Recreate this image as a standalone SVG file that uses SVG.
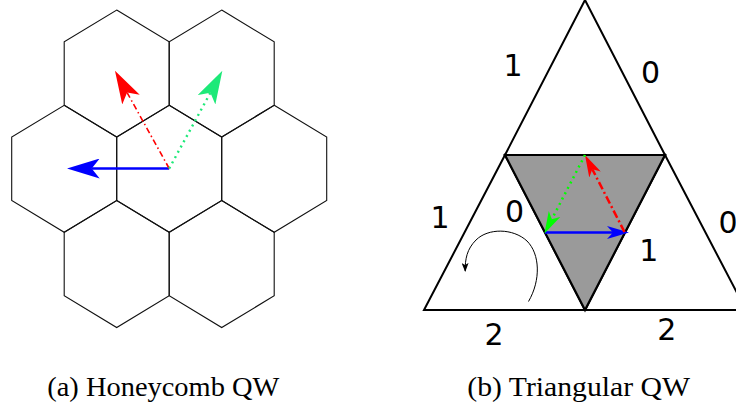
<svg xmlns="http://www.w3.org/2000/svg" width="736" height="407" viewBox="0 0 736 407">
<style>
.hex{fill:none;stroke:#111;stroke-width:1.1;stroke-linejoin:miter}
.tri{fill:none;stroke:#000;stroke-width:2;stroke-linejoin:miter}
.gray{fill:#9a9a9a;stroke:#000;stroke-width:2.2;stroke-linejoin:miter}
.lbl{font-family:"DejaVu Sans",sans-serif;font-size:30px;fill:#000;text-anchor:middle}
.cap{font-family:"Liberation Serif","Times New Roman",serif;font-size:28px;fill:#000}
.blue{fill:none;stroke:#0000ff;stroke-width:2.5}
.red{fill:none;stroke:#ff0000;stroke-width:1.6;stroke-dasharray:6 3 1.5 3}
.green{fill:none;stroke:#1de978;stroke-width:2.4;stroke-dasharray:2 4}
.redT{fill:none;stroke:#ff0000;stroke-width:2.5;stroke-dasharray:8 3 2 3}
.greenT{fill:none;stroke:#00ff00;stroke-width:2.5;stroke-dasharray:2 4}
.rot{fill:none;stroke:#000;stroke-width:1}
</style>
<defs>
<marker id="hB" viewBox="0 0 33 20" refX="8" refY="10" markerWidth="33" markerHeight="20" markerUnits="userSpaceOnUse" orient="auto"><path d="M0,0 L33,10 L0,20 L8,10 Z" fill="#0000ff"/></marker>
<marker id="hR" viewBox="0 0 33 20" refX="8" refY="10" markerWidth="33" markerHeight="20" markerUnits="userSpaceOnUse" orient="auto"><path d="M0,0 L33,10 L0,20 L8,10 Z" fill="#ff0000"/></marker>
<marker id="hG" viewBox="0 0 33 20" refX="8" refY="10" markerWidth="33" markerHeight="20" markerUnits="userSpaceOnUse" orient="auto"><path d="M0,0 L33,10 L0,20 L8,10 Z" fill="#1de978"/></marker>
<marker id="tB" viewBox="0 0 22 13" refX="6" refY="6.5" markerWidth="22" markerHeight="13" markerUnits="userSpaceOnUse" orient="auto"><path d="M0,0 L22,6.5 L0,13 L6,6.5 Z" fill="#0000ff"/></marker>
<marker id="tR" viewBox="0 0 22 13" refX="6" refY="6.5" markerWidth="22" markerHeight="13" markerUnits="userSpaceOnUse" orient="auto"><path d="M0,0 L22,6.5 L0,13 L6,6.5 Z" fill="#ff0000"/></marker>
<marker id="tG" viewBox="0 0 22 13" refX="6" refY="6.5" markerWidth="22" markerHeight="13" markerUnits="userSpaceOnUse" orient="auto"><path d="M0,0 L22,6.5 L0,13 L6,6.5 Z" fill="#00ff00"/></marker>
<marker id="sm" viewBox="0 0 9 7" refX="8" refY="3.5" markerWidth="9" markerHeight="7" markerUnits="userSpaceOnUse" orient="auto"><path d="M0,0 L9,3.5 L0,7 L2,3.5 Z" fill="#000"/></marker>
</defs>
<rect width="736" height="407" fill="#fff"/>

<g id="honeycomb">
<g id="hex-top-left"><polygon class="hex" points="116.7,10.05 169.2,41.8 169.2,105.3 116.7,137.05 64.2,105.3 64.2,41.8"/></g>
<g id="hex-top-right"><polygon class="hex" points="221.7,10.05 274.2,41.8 274.2,105.3 221.7,137.05 169.2,105.3 169.2,41.8"/></g>
<g id="hex-mid-left"><polygon class="hex" points="64.2,105.3 116.7,137.05 116.7,200.55 64.2,232.3 11.7,200.55 11.7,137.05"/></g>
<g id="hex-center"><polygon class="hex" points="169.2,105.3 221.7,137.05 221.7,200.55 169.2,232.3 116.7,200.55 116.7,137.05"/></g>
<g id="hex-mid-right"><polygon class="hex" points="274.2,105.3 326.7,137.05 326.7,200.55 274.2,232.3 221.7,200.55 221.7,137.05"/></g>
<g id="hex-bottom-left"><polygon class="hex" points="116.7,200.55 169.2,232.3 169.2,295.8 116.7,327.55 64.2,295.8 64.2,232.3"/></g>
<g id="hex-bottom-right"><polygon class="hex" points="221.7,200.55 274.2,232.3 274.2,295.8 221.7,327.55 169.2,295.8 169.2,232.3"/></g>
</g>

<g id="triangles">
<g id="tri-top"><polygon class="tri" points="585,0 665,155 505,155"/></g>
<g id="tri-left"><polygon class="tri" points="505,155 585,310 424,310"/></g>
<g id="tri-right"><polygon class="tri" points="665,155 746,310 585,310"/></g>
<g id="tri-center"><polygon class="gray" points="505,155 665,155 585,310"/></g>
</g>

<g id="connectors">
<line class="blue" x1="169.2" y1="168.5" x2="91.7" y2="168.5" marker-end="url(#hB)"/>
<line class="red" x1="169.2" y1="168.5" x2="127.1" y2="92.6" marker-end="url(#hR)"/>
<line class="green" x1="169.2" y1="168.5" x2="210.4" y2="92.7" marker-end="url(#hG)"/>
<line class="blue" x1="545" y1="232.5" x2="613" y2="232.5" marker-end="url(#tB)"/>
<line class="redT" x1="624.5" y1="232" x2="592.3" y2="169.2" marker-end="url(#tR)"/>
<line class="greenT" x1="585" y1="155" x2="551.8" y2="219.3" marker-end="url(#tG)"/>
<path class="rot" d="M528.5,301.5 C541,280 540,254 527,241 C513,228 488,228 476,240 C467,249 465,259 465.2,271" marker-end="url(#sm)"/>
</g>

<g id="labels">
<text class="lbl" x="513" y="75.5">1</text>
<text class="lbl" x="650.5" y="83">0</text>
<text class="lbl" x="440" y="228.3">1</text>
<text class="lbl" x="514.5" y="221.5">0</text>
<text class="lbl" x="648.7" y="261">1</text>
<text class="lbl" x="728" y="233">0</text>
<text class="lbl" x="494" y="345">2</text>
<text class="lbl" x="666.7" y="340">2</text>
<text class="cap" x="47.3" y="396" textLength="232" lengthAdjust="spacingAndGlyphs">(a) Honeycomb QW</text>
<text class="cap" x="467.3" y="396" textLength="222.7" lengthAdjust="spacingAndGlyphs">(b) Triangular QW</text>
</g>
</svg>
